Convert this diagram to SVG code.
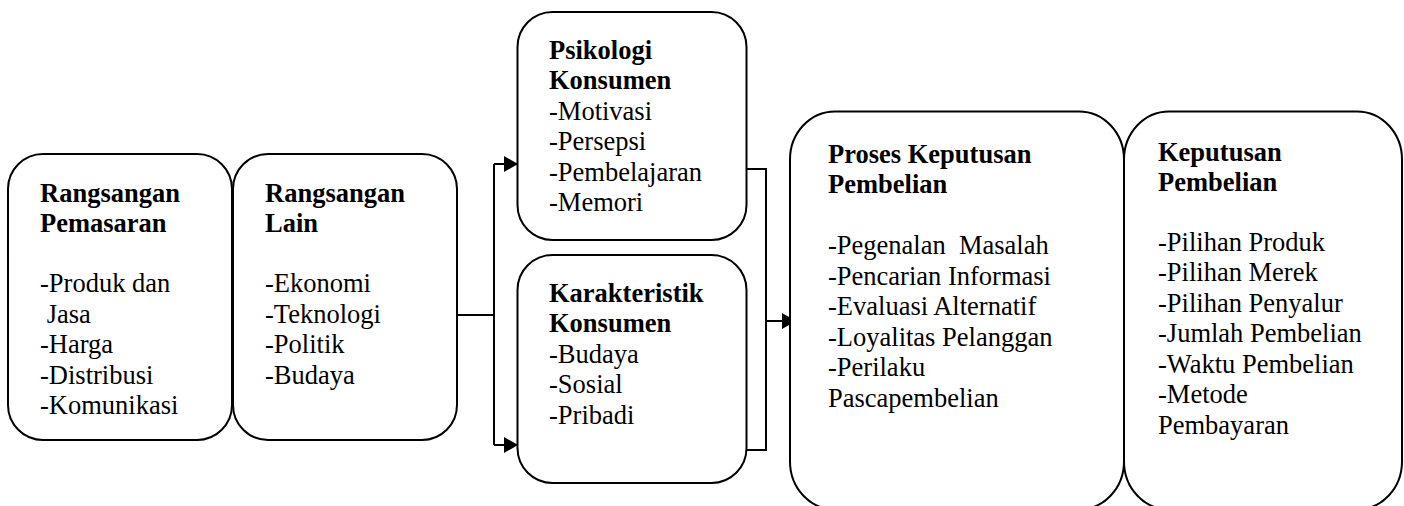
<svg xmlns="http://www.w3.org/2000/svg" width="1404" height="506" viewBox="0 0 1404 506">
<defs>
<style>
.box{fill:#fff;stroke:#000;stroke-width:2}
.t{font-family:"Liberation Serif","Times New Roman",serif;font-size:26.5px;fill:#000;white-space:pre}
.b{font-weight:bold}
.c{fill:none;stroke:#000;stroke-width:2}
</style>
<marker id="ah" markerUnits="userSpaceOnUse" markerWidth="16" markerHeight="18" refX="14" refY="8" orient="auto">
<path d="M0,0 L14,8 L0,16 Z" fill="#000"/>
</marker>
</defs>
<rect width="1404" height="506" fill="#fff"/>
<g id="connectors">
<path class="c" d="M457,315 H494"/>
<path class="c" d="M494,164 V445"/>
<path class="c" d="M494,164 H518" marker-end="url(#ah)"/>
<path class="c" d="M494,445 H518" marker-end="url(#ah)"/>
<path class="c" d="M746,169 H766 V450 H746"/>
<path class="c" d="M766,321 H796" marker-end="url(#ah)"/>
</g>
<g id="rangsangan-pemasaran">
<rect class="box" x="8" y="154" width="224" height="286" rx="35" ry="35"/>
<text class="t b" x="40" y="202">Rangsangan</text>
<text class="t b" x="40" y="232">Pemasaran</text>
<text class="t" x="40" y="292">-Produk dan</text>
<text class="t" x="40" y="322.5"> Jasa</text>
<text class="t" x="40" y="353">-Harga</text>
<text class="t" x="40" y="383.5">-Distribusi</text>
<text class="t" x="40" y="414">-Komunikasi</text>
</g>
<g id="rangsangan-lain">
<rect class="box" x="233" y="154" width="224" height="286" rx="35" ry="35"/>
<text class="t b" x="265" y="202">Rangsangan</text>
<text class="t b" x="265" y="232">Lain</text>
<text class="t" x="265" y="292">-Ekonomi</text>
<text class="t" x="265" y="322.5">-Teknologi</text>
<text class="t" x="265" y="353">-Politik</text>
<text class="t" x="265" y="383.5">-Budaya</text>
</g>
<g id="psikologi-konsumen">
<rect class="box" x="517.5" y="12" width="229" height="228" rx="35" ry="35"/>
<text class="t b" x="549" y="58.5">Psikologi</text>
<text class="t b" x="549" y="89">Konsumen</text>
<text class="t" x="549" y="119.5">-Motivasi</text>
<text class="t" x="549" y="150">-Persepsi</text>
<text class="t" x="549" y="180.5">-Pembelajaran</text>
<text class="t" x="549" y="211">-Memori</text>
</g>
<g id="karakteristik-konsumen">
<rect class="box" x="517.5" y="255" width="229" height="228" rx="35" ry="35"/>
<text class="t b" x="549" y="301.5">Karakteristik</text>
<text class="t b" x="549" y="332">Konsumen</text>
<text class="t" x="549" y="362.5">-Budaya</text>
<text class="t" x="549" y="393">-Sosial</text>
<text class="t" x="549" y="423.5">-Pribadi</text>
</g>
<g id="proses-keputusan-pembelian">
<rect class="box" x="790" y="111.5" width="334" height="398" rx="45" ry="48"/>
<text class="t b" x="828" y="162.5">Proses Keputusan</text>
<text class="t b" x="828" y="193">Pembelian</text>
<text class="t" x="828" y="254">-Pegenalan  Masalah</text>
<text class="t" x="828" y="284.5">-Pencarian Informasi</text>
<text class="t" x="828" y="315">-Evaluasi Alternatif</text>
<text class="t" x="828" y="345.5">-Loyalitas Pelanggan</text>
<text class="t" x="828" y="376">-Perilaku</text>
<text class="t" x="828" y="407">Pascapembelian</text>
</g>
<g id="keputusan-pembelian">
<rect class="box" x="1124" y="111.5" width="278" height="398" rx="45" ry="48"/>
<text class="t b" x="1158" y="160.5">Keputusan</text>
<text class="t b" x="1158" y="190.5">Pembelian</text>
<text class="t" x="1158" y="250.5">-Pilihan Produk</text>
<text class="t" x="1158" y="281">-Pilihan Merek</text>
<text class="t" x="1158" y="311.5">-Pilihan Penyalur</text>
<text class="t" x="1158" y="342">-Jumlah Pembelian</text>
<text class="t" x="1158" y="372.5">-Waktu Pembelian</text>
<text class="t" x="1158" y="403">-Metode</text>
<text class="t" x="1158" y="433.5">Pembayaran</text>
</g>
</svg>
